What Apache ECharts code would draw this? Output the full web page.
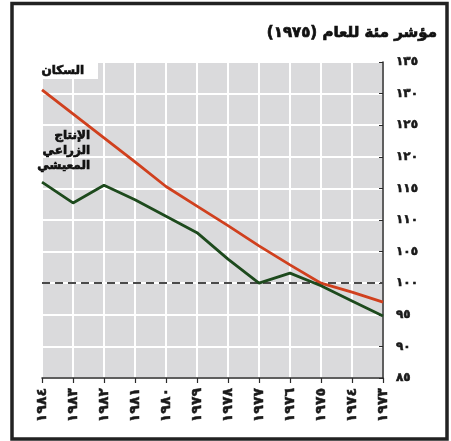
<!DOCTYPE html>
<html>
<head>
<meta charset="utf-8">
<script src="https://cdn.jsdelivr.net/npm/echarts@6/dist/echarts.min.js"></script>
<style>
html,body{margin:0;padding:0;background:#fff;}
#c{width:451px;height:441px;}
</style>
</head>
<body>
<div id="c"></div>
<script>
// Data
var years = ['١٩٨٤','١٩٨٣','١٩٨٢','١٩٨١','١٩٨٠','١٩٧٩','١٩٧٨','١٩٧٧','١٩٧٦','١٩٧٥','١٩٧٤','١٩٧٣'];
var population = [130.6, 126.8, 123.0, 119.2, 115.3, 112.2, 109.1, 105.9, 102.9, 100.0, 98.6, 97.0];
var agriculture = [116.0, 112.7, 115.5, 113.2, 110.6, 108.0, 103.8, 100.0, 101.6, 99.6, 97.2, 94.8];
var yTickValues = [85, 90, 95, 100, 105, 110, 115, 120, 125, 130, 135];
var yTickLabels = ['٨٥','٩٠','٩٥','١٠٠','١٠٥','١١٠','١١٥','١٢٠','١٢٥','١٣٠','١٣٥'];
var baseLine = 100;
var titleText = '\u200Fمؤشر مئة للعام (١٩٧٥)\u200F';
var popName = 'السكان';
var agriName = 'الإنتاج\nالزراعي\nالمعيشي';

var FONT = '"DejaVu Sans", "Noto Sans", sans-serif';
var chart = echarts.init(document.getElementById('c'), null, {renderer: 'canvas'});
chart.setOption({
  animation: false,
  backgroundColor: '#fff',
  grid: {
    left: 42, right: 68, top: 62, bottom: 63,
    show: true, backgroundColor: '#dadadc', borderWidth: 0
  },
  xAxis: {
    type: 'category',
    data: years,
    boundaryGap: false,
    axisLine: {show: true, lineStyle: {color: '#2a2a2a', width: 1.5}},
    axisTick: {show: true, alignWithLabel: true, length: 5, lineStyle: {color: '#2a2a2a', width: 1.2}},
    axisLabel: {
      rotate: 90, margin: 10, color: '#1a1a1a',
      fontFamily: FONT, fontWeight: 'bold', fontSize: 14, interval: 0,
      textBorderColor: '#1a1a1a', textBorderWidth: 0.5
    },
    splitLine: {show: true, lineStyle: {color: '#ffffff', width: 2}}
  },
  yAxis: {
    type: 'value',
    position: 'right',
    min: 85, max: 135, interval: 5,
    axisLine: {show: true, lineStyle: {color: '#2a2a2a', width: 1.5}},
    axisTick: {show: true, inside: true, length: 4, lineStyle: {color: '#2a2a2a', width: 1}},
    axisLabel: {
      margin: 13, color: '#1a1a1a', fontFamily: FONT, fontWeight: 'bold', fontSize: 12,
      textBorderColor: '#1a1a1a', textBorderWidth: 0.6,
      formatter: function (v) {
        var i = yTickValues.indexOf(Math.round(v));
        return i >= 0 ? yTickLabels[i] : '';
      }
    },
    splitLine: {show: true, lineStyle: {color: '#ffffff', width: 2}}
  },
  series: [
    {
      name: popName,
      type: 'line',
      data: population,
      symbol: 'none',
      lineStyle: {color: '#d0401e', width: 2.8},
      z: 3,
      markLine: {
        silent: true,
        symbol: ['none', 'none'],
        label: {show: false},
        lineStyle: {color: '#4a4a4a', type: [8, 5], width: 2},
        data: [{yAxis: baseLine}],
        z: 1
      }
    },
    {
      name: agriName,
      type: 'line',
      data: agriculture,
      symbol: 'none',
      lineStyle: {color: '#1d4a1d', width: 2.8},
      z: 4
    }
  ],
  graphic: [
    {
      type: 'rect',
      shape: {x: 12, y: 3.5, width: 435, height: 435.5},
      style: {fill: 'none', stroke: '#222', lineWidth: 3.5},
      z: 100
    },
    {
      type: 'rect',
      shape: {x: 42, y: 62, width: 56, height: 17},
      style: {fill: '#fff'},
      z: 40
    },
    {
      type: 'text',
      x: 437, y: 33,
      style: {
        text: titleText, align: 'right', verticalAlign: 'middle',
        font: 'bold 15px ' + FONT, fill: '#111',
        stroke: '#111', lineWidth: 0.7
      },
      z: 50
    },
    {
      type: 'text',
      x: 84, y: 71,
      style: {
        text: '\u200F' + popName + '\u200F', align: 'right', verticalAlign: 'middle',
        font: 'bold 12px ' + FONT, fill: '#111',
        stroke: '#111', lineWidth: 0.7
      },
      z: 50
    },
    {
      type: 'text',
      x: 90, y: 151,
      style: {
        text: agriName, align: 'right', verticalAlign: 'middle',
        font: 'bold 12px ' + FONT, fill: '#111', lineHeight: 15,
        stroke: '#111', lineWidth: 0.7
      },
      z: 50
    }
  ]
});
</script>
</body>
</html>
